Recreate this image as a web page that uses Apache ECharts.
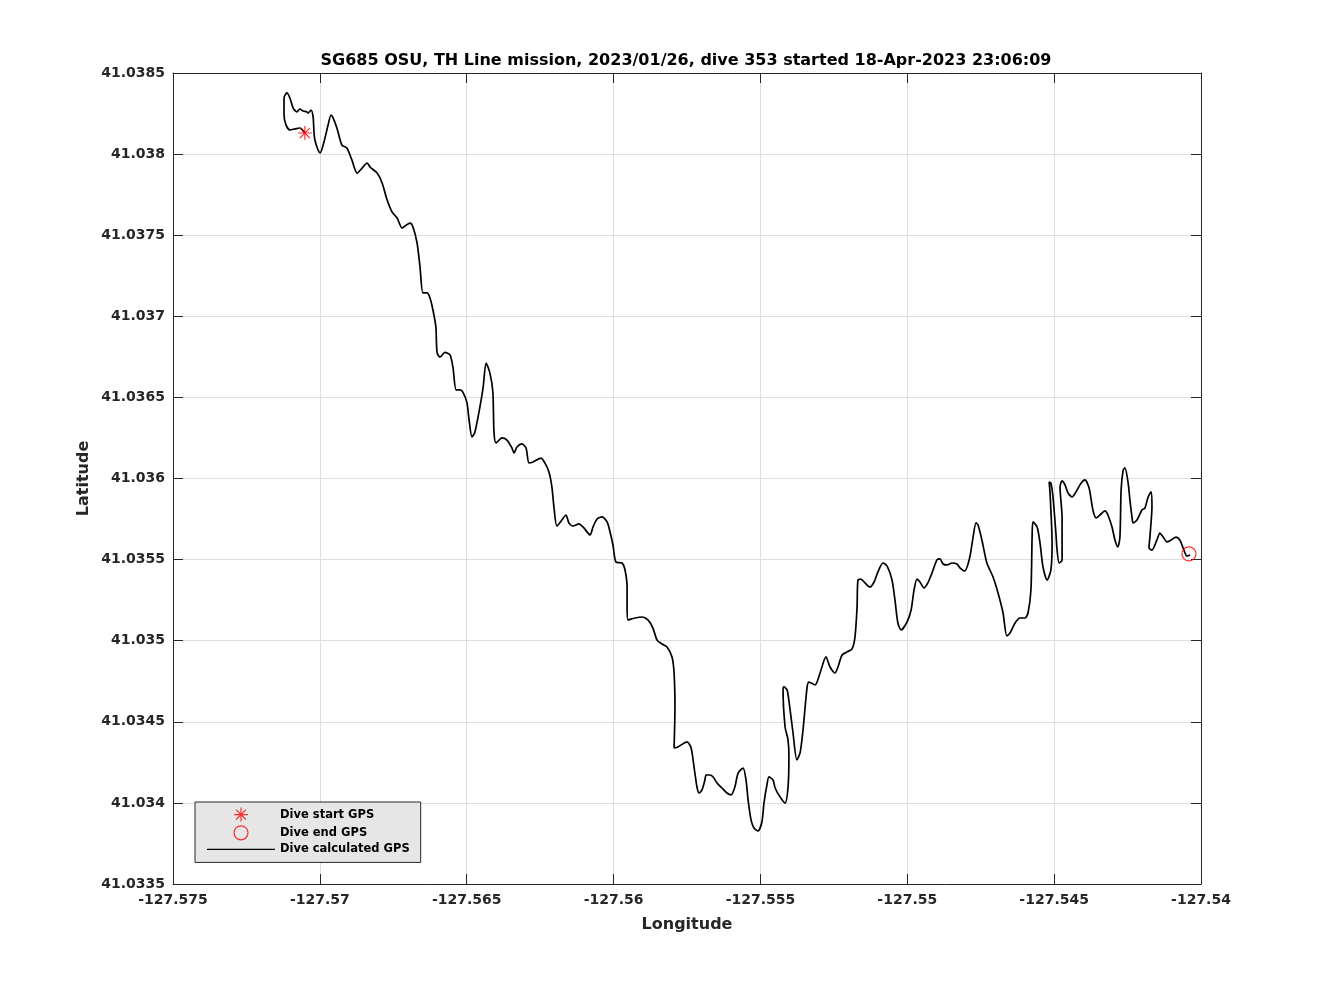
<!DOCTYPE html>
<html>
<head>
<meta charset="utf-8">
<script src="https://cdn.jsdelivr.net/npm/echarts@6/dist/echarts.min.js"></script>
<style>
html,body{margin:0;padding:0;background:#fff;}
#chart{width:1328px;height:996px;}
</style>
</head>
<body>
<div id="chart"></div>
<script>
const titleText = 'SG685 OSU, TH Line mission, 2023/01/26, dive 353 started 18-Apr-2023 23:06:09';
const xName = 'Longitude';
const yName = 'Latitude';
const xMin = -127.575, xMax = -127.54, xStep = 0.005;
const yMin = 41.0335, yMax = 41.0385, yStep = 0.0005;
const xTickLabels = ['-127.575','-127.57','-127.565','-127.56','-127.555','-127.55','-127.545','-127.54'];
const yTickLabels = ['41.0335','41.034','41.0345','41.035','41.0355','41.036','41.0365','41.037','41.0375','41.038','41.0385'];
const legendNames = ['Dive start GPS','Dive end GPS','Dive calculated GPS'];

const startGPS = [-127.57051, 41.038130];
const endGPS = [-127.54041, 41.035535];

const pathLon = [
-127.57051,-127.57068,-127.57085,-127.57102,-127.57115,-127.57122,-127.57122,-127.57112,-127.57102,-127.57091,
-127.57078,-127.57068,-127.57057,-127.57044,-127.57040,-127.57030,-127.57023,-127.57020,-127.57017,-127.57006,
-127.56999,-127.56986,-127.56972,-127.56962,-127.56955,-127.56942,-127.56925,-127.56908,-127.56891,-127.56873,
-127.56856,-127.56839,-127.56829,-127.56805,-127.56788,-127.56771,-127.56754,-127.56737,-127.56720,-127.56710,
-127.56693,-127.56683,-127.56669,-127.56659,-127.56649,-127.56635,-127.56625,-127.56615,-127.56605,-127.56601,
-127.56591,-127.56574,-127.56557,-127.56547,-127.56536,-127.56523,-127.56513,-127.56499,-127.56492,-127.56482,
-127.56472,-127.56455,-127.56444,-127.56434,-127.56421,-127.56411,-127.56407,-127.56400,-127.56380,-127.56363,
-127.56346,-127.56339,-127.56329,-127.56312,-127.56298,-127.56288,-127.56274,-127.56247,-127.56234,-127.56220,
-127.56210,-127.56203,-127.56193,-127.56176,-127.56162,-127.56152,-127.56138,-127.56118,-127.56101,-127.56080,
-127.56070,-127.56056,-127.56039,-127.56022,-127.56012,-127.56002,-127.55992,-127.55971,-127.55961,-127.55954,
-127.55954,-127.55951,-127.55927,-127.55903,-127.55883,-127.55866,-127.55852,-127.55835,-127.55818,-127.55801,
-127.55794,-127.55791,-127.55794,-127.55781,-127.55750,-127.55736,-127.55726,-127.55716,-127.55709,-127.55699,
-127.55689,-127.55685,-127.55672,-127.55661,-127.55648,-127.55631,-127.55614,-127.55600,-127.55587,-127.55576,
-127.55559,-127.55549,-127.55542,-127.55532,-127.55522,-127.55508,-127.55495,-127.55488,-127.55478,-127.55471,
-127.55457,-127.55450,-127.55433,-127.55416,-127.55406,-127.55403,-127.55406,-127.55416,-127.55423,-127.55420,
-127.55409,-127.55399,-127.55389,-127.55376,-127.55365,-127.55355,-127.55341,-127.55335,-127.55314,-127.55297,
-127.55277,-127.55263,-127.55246,-127.55236,-127.55222,-127.55205,-127.55188,-127.55178,-127.55171,-127.55168,
-127.55158,-127.55144,-127.55127,-127.55113,-127.55100,-127.55083,-127.55069,-127.55052,-127.55042,-127.55032,
-127.55021,-127.55001,-127.54987,-127.54977,-127.54967,-127.54957,-127.54943,-127.54930,-127.54916,-127.54899,
-127.54889,-127.54878,-127.54865,-127.54848,-127.54831,-127.54820,-127.54804,-127.54787,-127.54776,-127.54766,
-127.54759,-127.54746,-127.54729,-127.54708,-127.54691,-127.54674,-127.54661,-127.54650,-127.54633,-127.54616,
-127.54599,-127.54589,-127.54579,-127.54575,-127.54572,-127.54558,-127.54548,-127.54538,-127.54524,-127.54511,
-127.54507,-127.54514,-127.54517,-127.54511,-127.54504,-127.54494,-127.54490,-127.54483,-127.54473,-127.54473,
-127.54480,-127.54473,-127.54463,-127.54453,-127.54439,-127.54426,-127.54408,-127.54395,-127.54381,-127.54368,
-127.54357,-127.54344,-127.54327,-127.54317,-127.54303,-127.54293,-127.54283,-127.54276,-127.54272,-127.54265,
-127.54259,-127.54248,-127.54242,-127.54235,-127.54231,-127.54218,-127.54201,-127.54191,-127.54180,-127.54170,
-127.54167,-127.54174,-127.54177,-127.54167,-127.54150,-127.54140,-127.54129,-127.54116,-127.54102,-127.54085,
-127.54072,-127.54061,-127.54048,-127.54037
];
const pathLat = [
41.038130,41.038161,41.038155,41.038149,41.038179,41.038241,41.038346,41.038377,41.038346,41.038284,
41.038260,41.038278,41.038266,41.038260,41.038253,41.038272,41.038229,41.038136,41.038087,41.038025,
41.038007,41.038075,41.038179,41.038241,41.038223,41.038161,41.038056,41.038038,41.037964,41.037883,
41.037914,41.037945,41.037920,41.037883,41.037822,41.037717,41.037643,41.037606,41.037544,41.037557,
41.037575,41.037551,41.037452,41.037304,41.037144,41.037144,41.037113,41.037039,41.036934,41.036777,
41.036749,41.036777,41.036762,41.036688,41.036546,41.036546,41.036533,41.036466,41.036361,41.036256,
41.036287,41.036441,41.036564,41.036712,41.036650,41.036533,41.036281,41.036219,41.036250,41.036237,
41.036188,41.036157,41.036194,41.036213,41.036188,41.036096,41.036102,41.036126,41.036096,41.036040,
41.035948,41.035824,41.035707,41.035744,41.035775,41.035726,41.035707,41.035720,41.035695,41.035652,
41.035701,41.035750,41.035763,41.035732,41.035670,41.035590,41.035485,41.035479,41.035436,41.035331,
41.035208,41.035128,41.035140,41.035146,41.035128,41.035078,41.035004,41.034980,41.034961,41.034900,
41.034801,41.034591,41.034339,41.034345,41.034376,41.034339,41.034221,41.034098,41.034061,41.034080,
41.034141,41.034172,41.034172,41.034160,41.034123,41.034092,41.034061,41.034049,41.034098,41.034184,
41.034215,41.034141,41.034018,41.033895,41.033845,41.033827,41.033882,41.033999,41.034110,41.034160,
41.034141,41.034092,41.034036,41.033999,41.034098,41.034283,41.034388,41.034468,41.034696,41.034715,
41.034696,41.034573,41.034431,41.034265,41.034308,41.034450,41.034715,41.034745,41.034727,41.034801,
41.034900,41.034838,41.034801,41.034838,41.034912,41.034931,41.034949,41.035023,41.035208,41.035374,
41.035380,41.035356,41.035331,41.035362,41.035424,41.035479,41.035461,41.035374,41.035251,41.035109,
41.035066,41.035115,41.035189,41.035313,41.035380,41.035362,41.035325,41.035356,41.035417,41.035498,
41.035504,41.035473,41.035467,41.035479,41.035473,41.035448,41.035430,41.035516,41.035639,41.035726,
41.035713,41.035621,41.035479,41.035393,41.035294,41.035171,41.035029,41.035048,41.035109,41.035140,
41.035140,41.035171,41.035313,41.035639,41.035732,41.035701,41.035602,41.035455,41.035374,41.035436,
41.035602,41.035911,41.035978,41.035972,41.035886,41.035664,41.035559,41.035479,41.035498,41.035763,
41.035948,41.035985,41.035960,41.035911,41.035886,41.035917,41.035972,41.035991,41.035941,41.035806,
41.035757,41.035775,41.035800,41.035775,41.035701,41.035621,41.035578,41.035639,41.035929,41.036052,
41.036065,41.035972,41.035867,41.035763,41.035726,41.035744,41.035806,41.035818,41.035886,41.035917,
41.035824,41.035639,41.035572,41.035559,41.035621,41.035664,41.035639,41.035609,41.035621,41.035639,
41.035621,41.035572,41.035522,41.035528
];

const pathData = pathLon.map((v, i) => [v, pathLat[i]]);
const starPath = 'path://M0,-1L0,1M-1,0L1,0M-0.707,-0.707L0.707,0.707M-0.707,0.707L0.707,-0.707';
const lineIcon = 'path://M0,0L68,0L68,1.4L0,1.4Z';

const FONT = 'DejaVu Sans';
const AX = '#262626';
const GRIDC = '#dedede';

const chart = echarts.init(document.getElementById('chart'), null, {renderer: 'canvas'});

function xLab(v) { const i = Math.round((v - xMin) / xStep); return xTickLabels[i] !== undefined ? xTickLabels[i] : ''; }
function yLab(v) { const i = Math.round((v - yMin) / yStep); return yTickLabels[i] !== undefined ? yTickLabels[i] : ''; }

const baseAxis = {
  type: 'value',
  axisLine: {show: true, onZero: false, lineStyle: {color: AX, width: 1}},
  axisTick: {show: true, inside: true, length: 10, lineStyle: {color: AX, width: 1}},
};

chart.setOption({
  animation: false,
  backgroundColor: '#ffffff',
  graphic: [{
    type: 'text',
    x: 686,
    y: 53,
    style: {
      text: titleText,
      align: 'center', verticalAlign: 'top',
      font: 'bold 16px "' + FONT + '"',
      fill: '#000'
    }
  }],
  grid: {left: 173, top: 73, width: 1028, height: 811, containLabel: false},
  legend: {
    show: true,
    orient: 'vertical',
    left: 195,
    top: 802,
    padding: [5, 11, 7, 12],
    itemWidth: 68,
    itemHeight: 14,
    itemGap: 3,
    backgroundColor: '#e6e6e6',
    borderColor: '#262626',
    borderWidth: 1,
    borderRadius: 0,
    selectedMode: false,
    textStyle: {fontFamily: FONT, fontWeight: 'bold', fontSize: 11.5, color: '#000'},
    data: [
      {name: legendNames[0], icon: starPath, itemStyle: {color: 'transparent', borderColor: '#ff0000', borderWidth: 1.2}},
      {name: legendNames[1], icon: 'circle', itemStyle: {color: 'transparent', borderColor: '#ff0000', borderWidth: 1.2}},
      {name: legendNames[2], icon: lineIcon, itemStyle: {color: '#000000', borderWidth: 0}}
    ]
  },
  xAxis: [
    Object.assign({}, baseAxis, {
      min: xMin, max: xMax, interval: xStep, position: 'bottom',
      name: xName, nameLocation: 'middle', nameGap: 33, nameMoveOverlap: false,
      nameTextStyle: {fontFamily: FONT, fontWeight: 'bold', fontSize: 16, color: AX},
      axisLabel: {show: true, margin: 9, formatter: xLab, fontFamily: FONT, fontWeight: 'bold', fontSize: 14, color: AX},
      splitLine: {show: true, lineStyle: {color: GRIDC, width: 1}}
    }),
    Object.assign({}, baseAxis, {
      min: xMin, max: xMax, interval: xStep, position: 'top',
      axisLabel: {show: false}, splitLine: {show: false}
    })
  ],
  yAxis: [
    Object.assign({}, baseAxis, {
      min: yMin, max: yMax, interval: yStep, position: 'left',
      name: yName, nameLocation: 'middle', nameGap: 81, nameRotate: 90, nameMoveOverlap: false,
      nameTextStyle: {fontFamily: FONT, fontWeight: 'bold', fontSize: 16, color: AX},
      axisLabel: {show: true, margin: 8, formatter: yLab, fontFamily: FONT, fontWeight: 'bold', fontSize: 14, color: AX},
      splitLine: {show: true, lineStyle: {color: GRIDC, width: 1}}
    }),
    Object.assign({}, baseAxis, {
      min: yMin, max: yMax, interval: yStep, position: 'right',
      axisLabel: {show: false}, splitLine: {show: false}
    })
  ],
  series: [
    {
      name: legendNames[2],
      type: 'line',
      xAxisIndex: 0, yAxisIndex: 0,
      data: pathData,
      showSymbol: false,
      symbol: 'none',
      smooth: 0.25,
      lineStyle: {color: '#000000', width: 1.7},
      itemStyle: {color: '#000000'},
      z: 2
    },
    {
      name: legendNames[0],
      type: 'scatter',
      data: [startGPS],
      symbol: starPath,
      symbolSize: 14,
      itemStyle: {color: 'transparent', borderColor: '#ff0000', borderWidth: 1.2},
      z: 5
    },
    {
      name: legendNames[1],
      type: 'scatter',
      data: [endGPS],
      symbol: 'circle',
      symbolSize: 14,
      itemStyle: {color: 'transparent', borderColor: '#ff0000', borderWidth: 1.2},
      z: 5
    }
  ]
});
</script>
</body>
</html>
